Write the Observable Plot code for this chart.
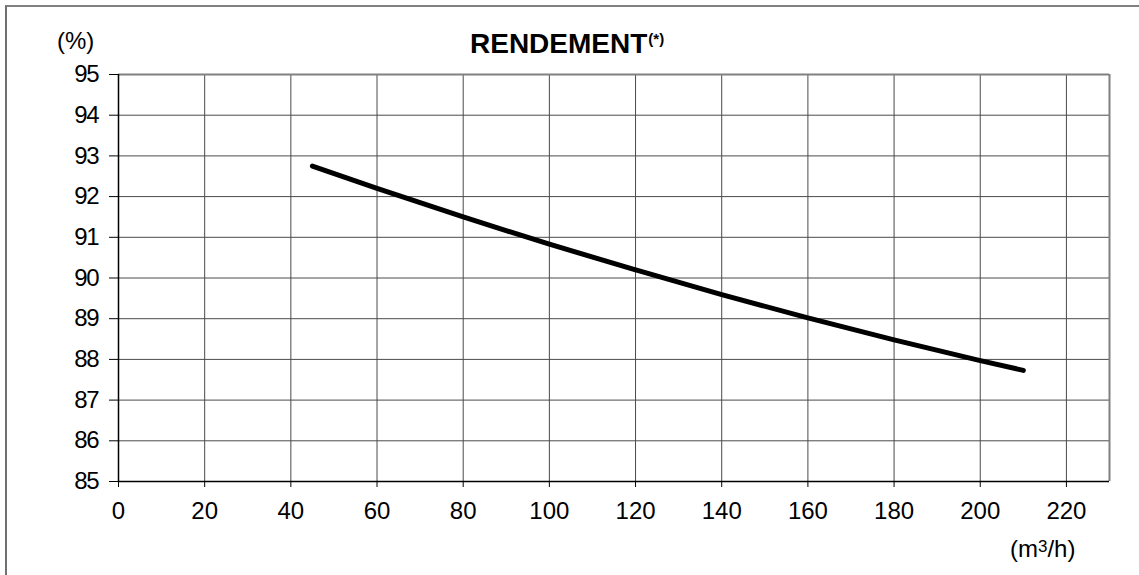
<!DOCTYPE html>
<html>
<head>
<meta charset="utf-8">
<script src="https://cdn.jsdelivr.net/npm/d3@7"></script>
<script src="https://cdn.jsdelivr.net/npm/@observablehq/plot@0.6"></script>
<style>
  html, body { margin: 0; padding: 0; background: #fff; }
  #wrap { position: relative; width: 1139px; height: 575px; overflow: hidden; font-family: "Liberation Sans", Arial, sans-serif; }
  #frame { position: absolute; left: 5px; top: 5px; width: 1200px; height: 700px; border-left: 2px solid #707070; border-top: 2px solid #808080; box-sizing: border-box; }
  #chart { position: absolute; left: 0; top: 0; }
  .lbl { position: absolute; color: #000; white-space: nowrap; }
  .ylab text { letter-spacing: -1.2px; }
</style>
</head>
<body>
<div id="wrap">
  <div id="frame"></div>
  <div id="chart"></div>
  <div class="lbl" id="title" style="left:470px; top:27px; font-size:28px; font-weight:bold; line-height:34px;">RENDEMENT<span style="font-size:15px; vertical-align:baseline; position:relative; top:-9px; margin-left:1px;">(*)</span></div>
  <div class="lbl" id="yunit" style="left:57px; top:27px; font-size:24px; line-height:28px;">(%)</div>
  <div class="lbl" id="xunit" style="left:1010px; top:535px; font-size:24px; line-height:28px;">(m<span style="font-size:17px; vertical-align:top; position:relative; top:-2px;">3</span>/h)</div>
</div>
<script>
// Data
const debit = [45, 60, 80, 100, 120, 140, 160, 180, 200, 210];          // m³/h
const rendement = [92.75, 92.20, 91.50, 90.83, 90.20, 89.59, 89.02, 88.48, 87.97, 87.73]; // %
const xTicks = [0, 20, 40, 60, 80, 100, 120, 140, 160, 180, 200, 220];
const yTicks = [85, 86, 87, 88, 89, 90, 91, 92, 93, 94, 95];
const xDomain = [0, 230];
const yDomain = [85, 95];

const data = debit.map((d, i) => ({x: d, y: rendement[i]}));

const chart = Plot.plot({
  width: 1139,
  height: 575,
  marginLeft: 118,
  marginRight: 30,
  marginTop: 74,
  marginBottom: 94,
  style: {fontFamily: '"Liberation Sans", Arial, sans-serif', fontSize: "24px", color: "#000", background: "transparent"},
  x: {domain: xDomain, ticks: xTicks, label: null},
  y: {domain: yDomain, ticks: yTicks, label: null},
  marks: [
    Plot.ruleX(xTicks, {stroke: "#4a4a4a", strokeWidth: 1}),
    Plot.ruleY(yTicks, {stroke: "#4a4a4a", strokeWidth: 1}),
    Plot.ruleX([xDomain[1]], {stroke: "#808080", strokeWidth: 2}),
    Plot.ruleY([yDomain[1]], {stroke: "#808080", strokeWidth: 2}),
    Plot.ruleX([xDomain[0]], {stroke: "#000", strokeWidth: 1.5}),
    Plot.ruleY([yDomain[0]], {stroke: "#000", strokeWidth: 1.5}),
    Plot.axisX({ticks: xTicks, tickSize: 6, tickPadding: 14, stroke: "#000", fontSize: 24, label: null, tickFormat: d => String(d)}),
    Plot.axisY({ticks: yTicks, tickSize: 9, tickPadding: 11, stroke: "#000", fontSize: 24, label: null, tickFormat: d => String(d), className: "ylab"}),
    Plot.line(data, {x: "x", y: "y", stroke: "#000", strokeWidth: 5, curve: "monotone-x", strokeLinecap: "round", strokeLinejoin: "round"})
  ]
});
document.getElementById("chart").appendChild(chart);
</script>
</body>
</html>
